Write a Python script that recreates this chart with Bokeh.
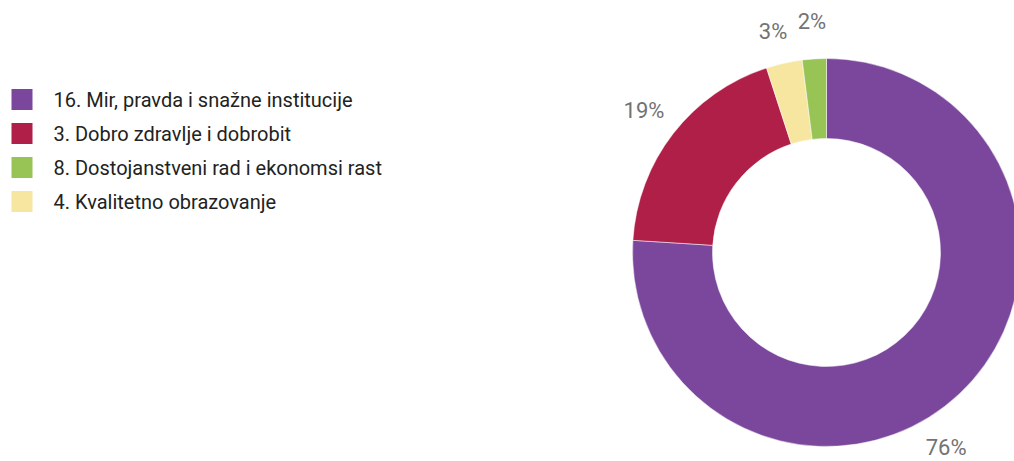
import math
from bokeh.plotting import figure
from bokeh.models import Range1d, ColumnDataSource
from bokeh.core.properties import value
from bokeh.embed import file_html
from bokeh.resources import INLINE

# ---- data (legend order) ----
categories = [
    "16. Mir, pravda i snažne institucije",
    "3. Dobro zdravlje i dobrobit",
    "8. Dostojanstveni rad i ekonomsi rast",
    "4. Kvalitetno obrazovanje",
]
values = [76, 19, 2, 3]
colors = ["#7B479C", "#B01F48", "#98C355", "#F6E6A0"]

# ---- layout (window pixel coordinates) ----
W, H = 1014, 461
def wy(y):  # window y (down) -> data y (up)
    return H - y

cx, cy = 826, wy(252)
R_OUT, R_IN = 194, 114
LABEL_R = 231
label_angle_shift = {0: 12.0}
label_dy = {0: 3.0, 3: -4.0}
label_dx = {3: -3.0}

p = figure(width=W, height=H, output_backend="svg", toolbar_location=None,
           x_range=Range1d(0, W), y_range=Range1d(0, H),
           min_border=0)
p.axis.visible = False
p.grid.visible = False
p.outline_line_color = None
p.background_fill_color = "white"
p.border_fill_color = "white"

# slices: descending value, clockwise from top
order = sorted(range(len(values)), key=lambda i: -values[i])
total = float(sum(values))
starts, ends, cols, lx, ly, ltxt = [], [], [], [], [], []
acc = 0.0
for i in order:
    a0 = acc / total * 360.0
    acc += values[i]
    a1 = acc / total * 360.0
    starts.append(math.radians(90 - a1))
    ends.append(math.radians(90 - a0))
    cols.append(colors[i])
    mid = (a0 + a1) / 2 + label_angle_shift.get(i, 0.0)
    lx.append(cx + LABEL_R * math.sin(math.radians(mid)) + label_dx.get(i, 0.0))
    ly.append(cy + LABEL_R * math.cos(math.radians(mid)) + label_dy.get(i, 0.0))
    ltxt.append(f"{values[i]}%")

src = ColumnDataSource(dict(s=starts, e=ends, c=cols))
p.annular_wedge(x=cx, y=cy, inner_radius=R_IN, outer_radius=R_OUT,
                start_angle="s", end_angle="e", fill_color="c",
                line_color="white", line_width=0.5, source=src)

p.text(x=lx, y=ly, text=ltxt, text_font=value("Roboto"), text_font_size="22px",
       text_color="#737373", text_align="center", text_baseline="middle")

# legend
LEG_X, LEG_Y0, LEG_DY, SW = 11, 99, 34, 21
ys = [wy(LEG_Y0 + k * LEG_DY) for k in range(len(categories))]
p.rect(x=[LEG_X + SW / 2] * len(categories), y=ys, width=SW, height=SW,
       fill_color=colors, line_color=None)
p.text(x=[53] * len(categories), y=ys, text=categories, text_font=value("Roboto"),
       text_font_size="20px", text_color="#222222", text_align="left",
       text_baseline="middle")

open("out.html", "w").write(file_html(p, INLINE))
